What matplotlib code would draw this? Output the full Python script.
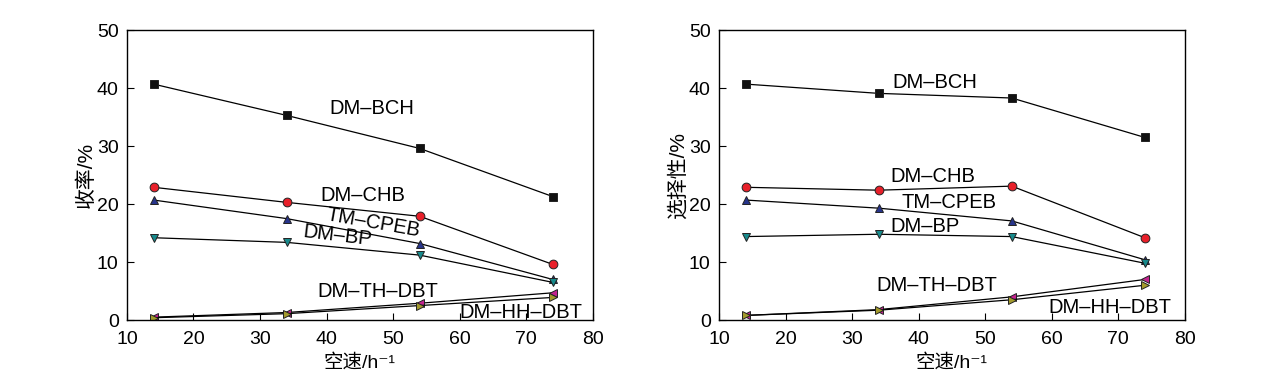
import matplotlib
matplotlib.use("Agg")
import matplotlib.pyplot as plt

plt.rcParams['font.family'] = ['Liberation Sans', 'Noto Sans CJK SC', 'DejaVu Sans']

speed = [14, 34, 54, 74]
names = ['DM–BCH', 'DM–CHB', 'TM–CPEB', 'DM–BP', 'DM–TH–DBT', 'DM–HH–DBT']

# yield, %
yield_bch = [40.7, 35.3, 29.6, 21.3]
yield_chb = [22.9, 20.3, 17.9, 9.6]
yield_cpeb = [20.7, 17.5, 13.2, 7.0]
yield_bp = [14.2, 13.4, 11.2, 6.5]
yield_th = [0.5, 1.3, 2.9, 4.7]
yield_hh = [0.4, 1.1, 2.5, 3.9]

# selectivity, %
sel_bch = [40.7, 39.1, 38.3, 31.5]
sel_chb = [22.9, 22.4, 23.1, 14.2]
sel_cpeb = [20.7, 19.3, 17.1, 10.4]
sel_bp = [14.4, 14.8, 14.4, 9.8]
sel_th = [0.8, 1.8, 4.0, 7.0]
sel_hh = [0.8, 1.7, 3.5, 6.0]

markers = ['s', 'o', '^', 'v', '<', '>']
colors = ['#111111', '#e8202a', '#27348b', '#178a8c', '#c3238f', '#a39a2c']

# label positions (x, y, rotation) per panel
left_lbl = [(46.8, 36.5, 0), (45.4, 21.4, 0), (47.0, 16.7, -10), (41.7, 14.5, -7), (47.7, 5.0, 0), (69.2, 1.3, 0)]
right_lbl = [(42.5, 41.0, 0), (42.2, 24.8, 0), (44.6, 20.3, 0), (41.0, 16.2, 0), (42.8, 6.0, 0), (68.7, 2.2, 0)]

fig = plt.figure(figsize=(12.76, 3.87), dpi=100)
ax1 = fig.add_axes([0.0995, 0.173, 0.365, 0.749])
ax2 = fig.add_axes([0.5635, 0.173, 0.365, 0.749])

panels = [
    (ax1, [yield_bch, yield_chb, yield_cpeb, yield_bp, yield_th, yield_hh], left_lbl, '收率/%'),
    (ax2, [sel_bch, sel_chb, sel_cpeb, sel_bp, sel_th, sel_hh], right_lbl, '选择性/%'),
]

for ax, series, lbls, ylab in panels:
    for vals, m, c in zip(series, markers, colors):
        ax.plot(speed, vals, color='black', lw=0.9, marker=m, markersize=6.3,
                markerfacecolor=c, markeredgecolor='#222222', markeredgewidth=0.7)
    for name, (tx, ty, rot) in zip(names, lbls):
        ax.text(tx, ty, name, ha='center', va='center', fontsize=14.5, rotation=rot)
    ax.set_xlim(10, 80)
    ax.set_ylim(0, 50)
    ax.set_xticks(range(10, 81, 10))
    ax.set_yticks(range(0, 51, 10))
    ax.tick_params(direction='in', labelsize=14, length=5, width=0.8)
    ax.tick_params(axis='x', pad=8)
    ax.tick_params(axis='y', pad=6)
    for s in ax.spines.values():
        s.set_linewidth(1.0)
    ax.set_xlabel('空速/h⁻¹', fontsize=14)
    ax.set_ylabel(ylab, fontsize=15, labelpad=1)

fig.savefig('out.png', dpi=100)
